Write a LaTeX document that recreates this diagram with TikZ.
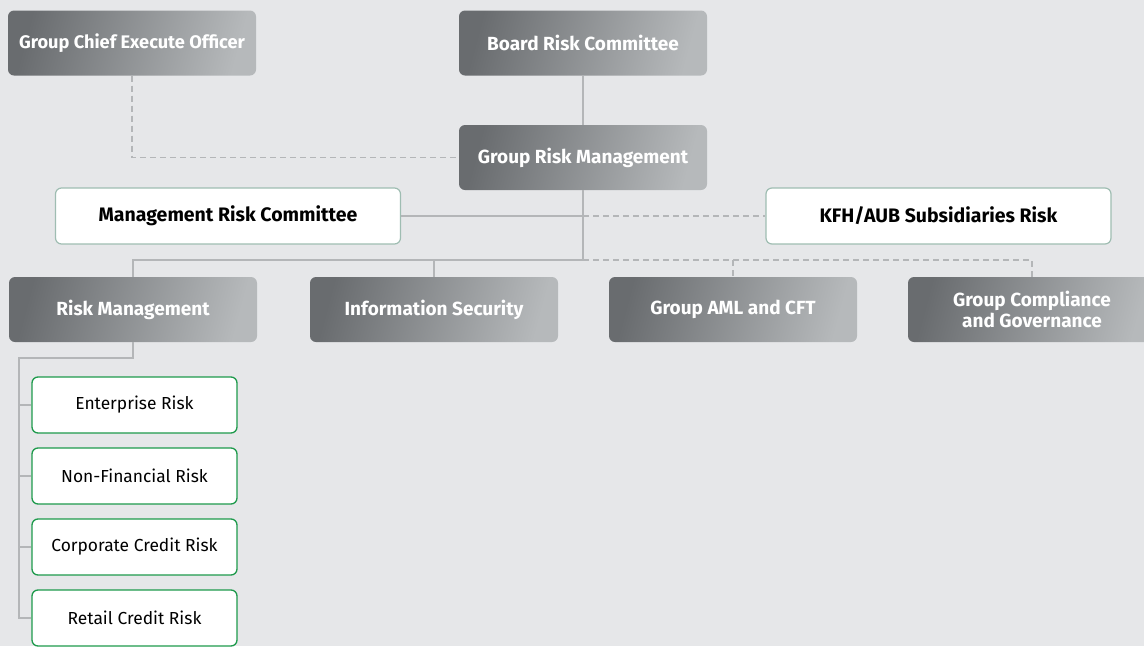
\documentclass[tikz,border=0pt]{standalone}
\usepackage{fontspec}
\setmainfont{Fira Sans}
\usetikzlibrary{calc}
\definecolor{bg}{HTML}{E6E7E9}
\definecolor{gdark}{HTML}{696C6F}
\definecolor{glight}{HTML}{B6B9BB}
\definecolor{lineg}{HTML}{B4B6B8}
\definecolor{wborder}{HTML}{9FBDB2}
\definecolor{gborder}{HTML}{1E9A4C}
\tikzset{
  greybox/.style={rounded corners=6pt, left color=gdark, right color=glight, shading angle=75,
    minimum width=248pt, minimum height=65pt, inner sep=0pt, text=white, align=center,
    font=\fontsize{19}{21}\selectfont\bfseries},
  whitebox/.style={rounded corners=6pt, fill=white, draw=wborder, line width=1.2pt,
    minimum width=345pt, minimum height=56pt, inner sep=0pt, text=black,
    font=\fontsize{19.5}{21}\selectfont\bfseries},
  greenbox/.style={rounded corners=6pt, fill=white, draw=gborder, line width=1.3pt,
    minimum width=205pt, minimum height=56pt, inner sep=0pt, text=black,
    font=\fontsize{17.4}{20}\selectfont},
  conn/.style={draw=lineg, line width=1.2pt},
  dconn/.style={draw=lineg, line width=1.2pt, dash pattern=on 6pt off 4pt},
}
\begin{document}
\begin{tikzpicture}[x=1pt,y=-1pt]
\useasboundingbox (0,0) rectangle (1144,646);
\clip (0,0) rectangle (1144,646);
\fill[bg] (0,0) rectangle (1144,646);
% top level
\node[greybox, font=\fontsize{18.2}{21}\selectfont\bfseries] (ceo) at (132,43) {Group Chief Execute Officer};
\node[greybox] (brc) at (583,43) {Board Risk Committee};
\node[greybox] (grm) at (583,157.5) {Group Risk Management};
\node[whitebox] (mrc) at (228,216) {Management Risk Committee};
\node[whitebox] (kfh) at (938.5,216) {KFH/AUB Subsidiaries Risk};
% second level
\node[greybox] (rm) at (133,309.5) {Risk Management};
\node[greybox] (is) at (434,309.5) {Information Security};
\node[greybox] (aml) at (733,309.5) {Group AML and CFT};
\node[greybox] (gc) at (1032,309.5) {Group Compliance\\and Governance};
% risk management children
\node[greenbox] (ent) at (134.5,405) {Enterprise Risk};
\node[greenbox] (nfr) at (134.5,476) {Non-Financial Risk};
\node[greenbox] (ccr) at (134.5,547) {Corporate Credit Risk};
\node[greenbox] (rcr) at (134.5,618) {Retail Credit Risk};
\coordinate (bus) at (583,260);
\coordinate (trunk) at (19,358);
% connectors
\draw[dconn] (ceo.south) |- (grm.west);
\draw[conn] (brc.south) -- (grm.north);
\draw[conn] (mrc.east) -- (grm.south |- mrc.east);
\draw[dconn] (grm.south |- kfh.west) -- (kfh.west);
\draw[conn] (grm.south) -- (bus);
\draw[conn] (bus) -| (rm.north);
\draw[conn] (is.north |- bus) -- (is.north);
\draw[dconn] (bus) -| (gc.north);
\draw[dconn] (aml.north |- bus) -- (aml.north);
\draw[conn] (rm.south) |- (trunk) |- (rcr.west);
\draw[conn] (trunk |- ent.west) -- (ent.west);
\draw[conn] (trunk |- nfr.west) -- (nfr.west);
\draw[conn] (trunk |- ccr.west) -- (ccr.west);
\end{tikzpicture}
\end{document}
